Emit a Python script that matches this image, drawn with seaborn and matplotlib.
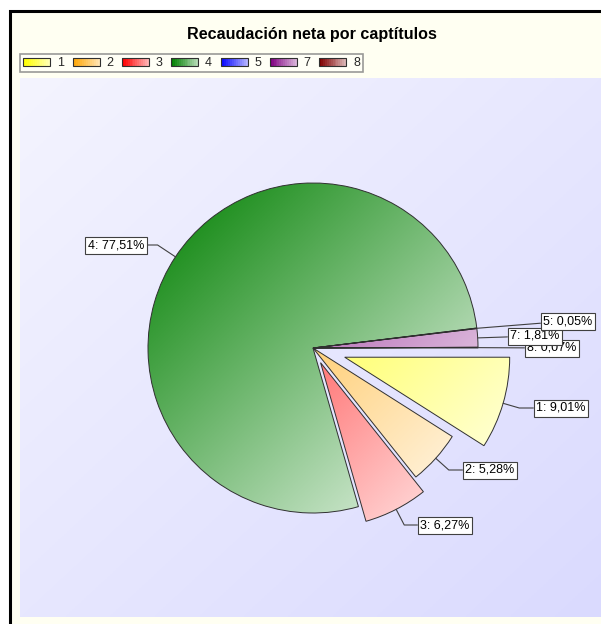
import numpy as np
import matplotlib
matplotlib.use("Agg")
import matplotlib.pyplot as plt
import seaborn as sns
from matplotlib.patches import Rectangle
from matplotlib.legend_handler import HandlerBase
from matplotlib.colors import to_rgb

# ── Datos ────────────────────────────────────────────────────
capitulos = ["1", "2", "3", "4", "5", "7", "8"]
porcentajes = [9.01, 5.28, 6.27, 77.51, 0.05, 1.81, 0.07]
colores = ["#FFFF00", "#FFA500", "#FF0000", "#008000", "#0000FF", "#800080", "#800000"]
separacion = [0.2, 0, 0.1, 0, 0, 0, 0]
titulo = "Recaudación neta por captítulos"

# posición (px) del centro de cada etiqueta
pos_etiquetas = {
    "1": (561, 408), "2": (490, 470), "3": (445, 525), "4": (116, 245),
    "5": (568, 321), "7": (535, 336), "8": (552, 348),
}

# ── Configuración general ────────────────────────────────────
W, H, DPI = 601, 624, 100
sns.set_theme(style="white")
plt.rcParams["font.family"] = ["Liberation Sans", "DejaVu Sans"]

CX, CY, R = 313, 348, 165


def px2d(x, y):
    return ((x - CX) / R, (CY - y) / R)


def mezcla(base, f):
    base = np.array(to_rgb(base))
    return base * (1 - f) + f


fig = plt.figure(figsize=(W / DPI, H / DPI), dpi=DPI, facecolor="white")

# marco negro con fondo marfil
fig.add_artist(Rectangle((10.5 / W, -0.1), 1.2, 1 - 10.5 / H + 0.1,
                         transform=fig.transFigure, facecolor="#FFFFF2",
                         edgecolor="black", linewidth=2.2, zorder=0))

# ── Área del gráfico ─────────────────────────────────────────
ax = fig.add_axes([20 / W, 7 / H, (W - 20) / W, 539 / H])
x0, y0 = px2d(20, 617)
x1, y1 = px2d(W, 78)

n = 200
u = np.linspace(0, 1, n)
X, Y = np.meshgrid(u, u)
T = (X + Y) / 2
c0 = np.array(to_rgb("#F4F4FF"))
c1 = np.array(to_rgb("#DADAFE"))
fondo = c0 + (c1 - c0) * T[..., None]
ax.imshow(fondo, extent=(x0, x1, y0, y1), origin="upper", aspect="auto", zorder=0)

wedges, _ = ax.pie(porcentajes, radius=1, startangle=0, counterclock=False,
                   explode=separacion, colors=colores,
                   wedgeprops=dict(edgecolor="#303030", linewidth=0.7))

# degradado diagonal en cada porción
for w, col in zip(wedges, colores):
    cx, cy = w.center
    f = (T * 0.95)[..., None]
    img = np.array(to_rgb(col)) * (1 - f) + f
    im = ax.imshow(img, extent=(cx - 1, cx + 1, cy - 1, cy + 1), origin="upper",
                   aspect="auto", zorder=1.5)
    im.set_clip_path(w)
    w.set_facecolor("none")
    w.set_zorder(2)

# etiquetas con líneas guía
for i, (w, cap, pct) in enumerate(zip(wedges, capitulos, porcentajes)):
    mid = (w.theta1 + w.theta2) / 2
    cx, cy = w.center
    px = cx + np.cos(np.radians(mid))
    py = cy + np.sin(np.radians(mid))
    tx, ty = px2d(*pos_etiquetas[cap])
    texto = f"{cap}: {pct:.2f}%".replace(".", ",")
    if abs(np.sin(np.radians(mid))) < 0.2:
        estilo = "arc3,rad=0"
    else:
        estilo = f"angle,angleA=0,angleB={mid},rad=0"
    ax.annotate(texto, xy=(px, py), xytext=(tx, ty), ha="center", va="center",
                fontsize=9, color="black", zorder=10 - i,
                bbox=dict(boxstyle="square,pad=0.2", facecolor="white",
                          edgecolor="#404040", linewidth=0.8),
                arrowprops=dict(arrowstyle="-", color="#404040", lw=0.8,
                                connectionstyle=estilo, shrinkA=0, shrinkB=0))

ax.set_xlim(x0, x1)
ax.set_ylim(y0, y1)
ax.set_aspect("auto")
ax.axis("off")


# ── Leyenda con degradado ────────────────────────────────────
class Degradado(HandlerBase):
    def create_artists(self, legend, orig_handle, xdescent, ydescent,
                       width, height, fontsize, trans):
        base = orig_handle.get_facecolor()[:3]
        k = 14
        arts = []
        for j in range(k):
            c = mezcla(base, 0.7 * j / (k - 1))
            arts.append(Rectangle((-xdescent + width * j / k, -ydescent),
                                  width / k + 0.3, height, facecolor=c,
                                  edgecolor="none", transform=trans))
        arts.append(Rectangle((-xdescent, -ydescent), width, height,
                              facecolor="none", edgecolor="#303030",
                              linewidth=0.8, transform=trans))
        return arts


handles = [Rectangle((0, 0), 1, 1, facecolor=c) for c in colores]
leg = fig.legend(handles, capitulos, loc="upper left",
                 bbox_to_anchor=(20 / W, 1 - 54 / H), borderaxespad=0,
                 ncol=len(capitulos), fontsize=9, handlelength=2.16,
                 handleheight=0.56, handletextpad=0.55, columnspacing=0.68,
                 borderpad=0.25, fancybox=False, frameon=True,
                 handler_map={Rectangle: Degradado()})
leg.get_frame().set_edgecolor("#808080")
leg.get_frame().set_facecolor("#FFFFF8")
leg.get_frame().set_linewidth(1.2)

fig.text(312 / W, 1 - 34 / H, titulo, ha="center", va="center",
         fontsize=11.6, fontweight="bold", color="black")

fig.savefig("out.png", dpi=DPI)
